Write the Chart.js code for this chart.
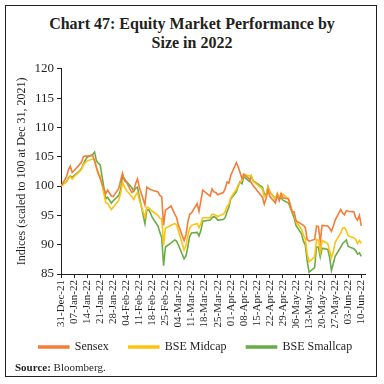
<!DOCTYPE html>
<html>
<head>
<meta charset="utf-8">
<script src="https://cdn.jsdelivr.net/npm/chart.js@4.4.0/dist/chart.umd.min.js"></script>
<style>
  html, body { margin: 0; padding: 0; background: #fff; overflow: hidden; }
  #frame { position: absolute; left: 5px; top: 5px; width: 370px; height: 370px; border: 1.5px solid #231f20; }
  #title { position: absolute; left: 0; top: 14px; width: 384px; text-align: center; font: bold 16px/19px "Liberation Serif", serif; color: #231f20; }
  #wrap { position: absolute; left: 6px; top: 58px; width: 372px; height: 316px; }
  #source { position: absolute; left: 15px; top: 361px; font: 11px "Liberation Serif", serif; color: #231f20; }
</style>
</head>
<body>
<div id="frame"></div>
<div id="title">Chart 47: Equity Market Performance by<br>Size in 2022</div>
<div id="wrap"><canvas id="chart"></canvas></div>
<div id="source"><b>Source:</b> Bloomberg.</div>
<script>
const FONT = '"Liberation Serif", serif';
const INK = '#231f20';

// trading days
const dates = [
  '2021-12-31',
  '2022-01-03','2022-01-04','2022-01-05','2022-01-06','2022-01-07','2022-01-10','2022-01-11','2022-01-12','2022-01-13','2022-01-14',
  '2022-01-17','2022-01-18','2022-01-19','2022-01-20','2022-01-21','2022-01-24','2022-01-25','2022-01-27','2022-01-28','2022-01-31',
  '2022-02-01','2022-02-02','2022-02-03','2022-02-04','2022-02-07','2022-02-08','2022-02-09','2022-02-10','2022-02-11','2022-02-14',
  '2022-02-15','2022-02-16','2022-02-17','2022-02-18','2022-02-21','2022-02-22','2022-02-23','2022-02-24','2022-02-25','2022-02-28',
  '2022-03-02','2022-03-03','2022-03-04','2022-03-07','2022-03-08','2022-03-09','2022-03-10','2022-03-11','2022-03-14','2022-03-15',
  '2022-03-16','2022-03-17','2022-03-21','2022-03-22','2022-03-23','2022-03-24','2022-03-25','2022-03-28','2022-03-29','2022-03-30','2022-03-31',
  '2022-04-01','2022-04-04','2022-04-05','2022-04-06','2022-04-07','2022-04-08','2022-04-11','2022-04-12','2022-04-13','2022-04-18',
  '2022-04-19','2022-04-20','2022-04-21','2022-04-22','2022-04-25','2022-04-26','2022-04-27','2022-04-28','2022-04-29',
  '2022-05-02','2022-05-04','2022-05-05','2022-05-06','2022-05-09','2022-05-10','2022-05-11','2022-05-12','2022-05-13','2022-05-16',
  '2022-05-17','2022-05-18','2022-05-19','2022-05-20','2022-05-23','2022-05-24','2022-05-25','2022-05-26','2022-05-27','2022-05-30','2022-05-31',
  '2022-06-01','2022-06-02','2022-06-03','2022-06-06','2022-06-07','2022-06-08','2022-06-09','2022-06-10'
];

const sensex = [
  100,
  101.6,102.8,103.4,102.3,102.6,103.7,104.1,105.0,105.1,105.1,
  105.2,104.3,103.2,102.1,101.3,98.7,99.3,98.3,98.2,99.6,
  101.0,102.2,100.9,100.7,98.9,99.2,100.4,101.2,99.8,96.8,
  99.8,99.6,99.4,99.3,99.0,98.4,98.2,93.3,95.9,96.6,
  95.2,94.6,93.3,90.7,91.7,93.8,95.2,95.4,97.0,95.7,
  97.5,99.3,98.3,99.5,99.0,98.9,98.5,98.9,99.5,100.7,100.5,
  101.8,104.0,103.3,102.3,101.3,102.0,101.2,100.6,100.1,98.1,
  96.9,97.9,99.4,98.2,97.1,98.5,97.5,98.7,98.0,
  97.8,95.6,95.6,94.1,93.5,93.3,92.9,90.9,90.6,90.9,
  93.2,93.1,90.6,93.3,93.2,92.8,92.3,93.1,94.2,96.0,95.4,
  95.1,95.8,95.7,95.6,94.6,94.2,95.0,93.2
];

const midcap = [
  100,
  100.8,101.3,101.6,101.2,101.6,102.5,102.8,103.6,104.0,104.3,
  104.6,104.4,103.0,102.3,101.7,97.2,97.0,96.0,96.4,97.6,
  98.8,100.6,99.9,99.3,98.2,97.7,98.4,98.9,97.6,94.7,
  96.4,96.3,96.0,95.7,95.0,94.5,94.4,89.9,92.8,93.3,
  93.6,93.4,92.3,89.1,89.8,91.5,92.8,93.3,93.6,92.9,
  93.6,94.6,94.6,95.2,95.2,95.0,94.8,95.2,95.6,96.5,96.9,
  98.0,99.4,100.2,100.6,101.0,102.0,101.7,101.8,100.8,99.5,
  98.2,98.4,99.8,98.9,97.7,98.8,98.0,98.7,98.6,
  97.8,95.6,95.3,93.9,92.6,91.6,91.0,88.4,87.1,87.9,
  90.9,90.8,88.7,90.7,90.2,89.0,87.8,88.8,90.4,92.0,92.8,
  92.9,92.4,91.5,91.2,90.9,90.2,90.7,90.2
];

const smallcap = [
  100,
  100.8,101.4,101.7,101.5,101.8,102.6,103.0,103.8,104.4,104.9,
  105.4,105.8,104.3,103.9,103.6,97.8,98.1,97.1,97.5,98.4,
  99.4,101.7,101.2,100.8,99.7,99.1,99.6,99.8,98.2,93.6,
  95.9,96.0,95.4,94.6,93.2,92.1,91.2,86.4,89.6,90.3,
  90.8,90.6,89.9,87.6,88.1,89.6,91.4,92.0,92.1,91.5,
  92.4,94.0,94.2,94.6,94.8,94.6,94.2,94.3,94.6,95.6,96.4,
  97.8,99.0,100.0,100.7,100.4,101.6,100.8,101.7,100.9,99.8,
  98.7,98.4,99.9,99.0,97.8,98.6,97.8,98.0,97.6,
  97.1,95.4,94.6,93.3,91.8,90.6,89.9,87.3,85.3,86.1,
  89.6,89.6,87.9,89.4,89.2,87.9,85.6,86.8,88.0,89.6,90.2,
  90.5,90.8,89.7,89.3,89.0,88.4,88.6,88.0
];

const tickLabels = [
  '31-Dec-21','07-Jan-22','14-Jan-22','21-Jan-22','28-Jan-22','04-Feb-22','11-Feb-22','18-Feb-22',
  '25-Feb-22','04-Mar-22','11-Mar-22','18-Mar-22','25-Mar-22','01-Apr-22','08-Apr-22','15-Apr-22',
  '22-Apr-22','29-Apr-22','06-May-22','13-May-22','20-May-22','27-May-22','03-Jun-22','10-Jun-22'
];

const MONTHS = ['Jan','Feb','Mar','Apr','May','Jun','Jul','Aug','Sep','Oct','Nov','Dec'];
const BASE = Date.UTC(2021, 11, 31);
const dayOf = (y, m, d) => Math.round((Date.UTC(y, m, d) - BASE) / 86400000);

const dateDays = dates.map(s => { const p = s.split('-'); return dayOf(+p[0], +p[1] - 1, +p[2]); });
const tickDays = tickLabels.map(s => { const p = s.split('-'); return dayOf(2000 + +p[2], MONTHS.indexOf(p[1]), +p[0]); });
const labelByDay = {};
tickDays.forEach((d, i) => { labelByDay[d] = tickLabels[i]; });

const toPoints = vals => vals.map((v, i) => ({ x: dateDays[i], y: v }));

const series = [
  { label: 'Sensex', data: sensex, color: '#f47d3a' },
  { label: 'BSE Midcap', data: midcap, color: '#ffc20e' },
  { label: 'BSE Smallcap', data: smallcap, color: '#6aac46' }
];

// nudge the legend row right and up, like the original
const legendShift = {
  id: 'legendShift',
  afterLayout(chart) {
    const lg = chart.legend;
    if (!lg) return;
    lg.left += 10; lg.right += 10;
    lg.top -= 7; lg.bottom -= 7;
  }
};

new Chart(document.getElementById('chart'), {
  type: 'line',
  data: {
    datasets: series.map(s => ({
      label: s.label,
      data: toPoints(s.data),
      borderColor: s.color,
      backgroundColor: s.color,
      borderWidth: 1.6,
      pointRadius: 0,
      tension: 0
    }))
  },
  options: {
    responsive: true,
    maintainAspectRatio: false,
    animation: false,
    layout: { padding: { top: 10, right: 13, bottom: 4, left: 0 } },
    plugins: {
      legend: {
        position: 'bottom',
        labels: { boxWidth: 30, boxHeight: 2, padding: 20, color: INK, font: { family: FONT, size: 12 } }
      },
      tooltip: { enabled: false }
    },
    scales: {
      x: {
        type: 'linear',
        min: 0,
        max: 163,
        afterBuildTicks: s => { s.ticks = tickDays.map(v => ({ value: v })); },
        afterFit: s => { s.height = 54; },
        ticks: {
          autoSkip: false, minRotation: 90, maxRotation: 90, padding: 2,
          color: INK, font: { family: FONT, size: 11 },
          callback: v => labelByDay[v]
        },
        grid: { drawOnChartArea: false, tickLength: 4, color: INK },
        border: { color: INK, width: 1 }
      },
      y: {
        min: 85,
        max: 120,
        afterFit: s => { s.width = 55; },
        ticks: { stepSize: 5, padding: 3, color: INK, font: { family: FONT, size: 13 } },
        grid: { drawOnChartArea: false, tickLength: 4, color: INK },
        border: { color: INK, width: 1 },
        title: {
          display: true, text: 'Indices (scaled to 100 at Dec 31, 2021)',
          color: INK, font: { family: FONT, size: 12 }, padding: { top: 9, bottom: 2 }
        }
      }
    }
  },
  plugins: [legendShift]
});
</script>
</body>
</html>
